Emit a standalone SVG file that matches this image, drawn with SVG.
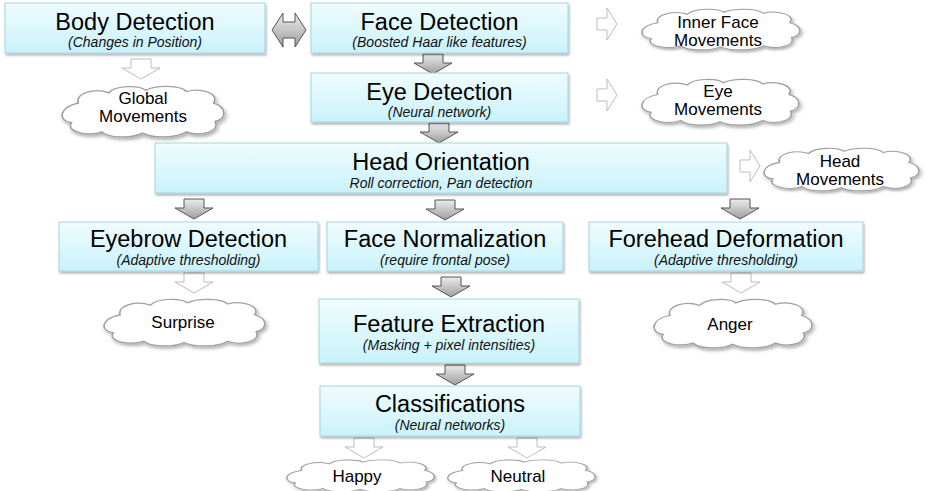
<svg xmlns="http://www.w3.org/2000/svg" width="928" height="491" viewBox="0 0 928 491">
<defs>
<linearGradient id="boxg" x1="0" y1="0" x2="0" y2="1"><stop offset="0" stop-color="#f0fcfe"/><stop offset="1" stop-color="#c9f2fb"/></linearGradient>
<linearGradient id="arrg" x1="0" y1="0" x2="0" y2="1"><stop offset="0" stop-color="#ececec"/><stop offset="1" stop-color="#9e9e9e"/></linearGradient>
<filter id="sh" x="-5%" y="-10%" width="110%" height="130%"><feDropShadow dx="1" dy="2" stdDeviation="1.2" flood-color="#000" flood-opacity="0.3"/></filter>
<path id="down" d="M9,0 H29 V9 H38 L19,20 L0,9 H9 Z"/>
<path id="right" d="M0,10 H10 V0 L20,16 L10,32 V22 H0 Z"/>
<path id="cloud" d="M12,14 C10,6 22,2 30,6 C34,0 48,0 52,4 C58,0 72,0 76,5 C84,2 96,6 92,14 C100,17 100,26 93,28 C96,36 84,40 76,36 C70,41 56,41 50,37 C44,41 30,41 26,36 C18,40 4,36 8,29 C0,28 0,17 12,14 Z"/>
</defs>
<style>
.box{fill:url(#boxg);stroke:#a8d3e3;stroke-width:1;filter:url(#sh)}
.t{font-family:"Liberation Sans",Arial,sans-serif;font-size:23.5px;fill:#000;text-anchor:middle}
.s{font-family:"Liberation Sans",Arial,sans-serif;font-size:14px;font-style:italic;fill:#111;text-anchor:middle}
.c{font-family:"Liberation Sans",Arial,sans-serif;font-size:17px;fill:#000;text-anchor:middle}
.cl{fill:#fff;stroke:#a0a0a0;stroke-width:1;filter:url(#sh)}
.ga{fill:url(#arrg);stroke:#555;stroke-width:1}
.wa{fill:#fff;stroke:#bdbdbd;stroke-width:1}
</style>
<rect width="928" height="491" fill="#fff"/>

<g id="connectors">
<path class="ga" d="M272,30 L283,13 V22 H295 V13 L306,30 L295,47 V38 H283 V47 Z"/>
<use href="#down" class="ga" x="414" y="54"/>
<use href="#down" class="ga" x="420" y="123"/>
<use href="#down" class="ga" x="175" y="199"/>
<use href="#down" class="ga" x="426" y="200"/>
<use href="#down" class="ga" x="721" y="199"/>
<use href="#down" class="ga" x="432" y="277"/>
<use href="#down" class="ga" x="436" y="365"/>
<use href="#down" class="wa" x="122" y="59"/>
<use href="#down" class="wa" x="175" y="273"/>
<use href="#down" class="wa" x="722" y="273"/>
<use href="#down" class="wa" x="345" y="438"/>
<use href="#down" class="wa" x="508" y="438"/>
<use href="#right" class="wa" x="597" y="8"/>
<use href="#right" class="wa" x="597" y="79"/>
<use href="#right" class="wa" x="740" y="150"/>
</g>

<g id="body"><rect class="box" x="5" y="3" width="260" height="50"/><text class="t" x="135" y="30">Body Detection</text><text class="s" x="135" y="47">(Changes in Position)</text></g>
<g id="face"><rect class="box" x="311" y="3" width="257" height="50"/><text class="t" x="439.5" y="30">Face Detection</text><text class="s" x="439.5" y="47">(Boosted Haar like features)</text></g>
<g id="eye"><rect class="box" x="311" y="73" width="257" height="49"/><text class="t" x="439.5" y="100">Eye Detection</text><text class="s" x="439.5" y="117">(Neural network)</text></g>
<g id="head"><rect class="box" x="155" y="143" width="572" height="50"/><text class="t" x="441" y="170">Head Orientation</text><text class="s" x="441" y="188">Roll correction, Pan detection</text></g>
<g id="eyebrow"><rect class="box" x="59" y="222" width="259" height="49"/><text class="t" x="188.5" y="247">Eyebrow Detection</text><text class="s" x="188.5" y="265">(Adaptive thresholding)</text></g>
<g id="facenorm"><rect class="box" x="327" y="222" width="236" height="49"/><text class="t" x="445" y="247">Face Normalization</text><text class="s" x="445" y="265">(require frontal pose)</text></g>
<g id="forehead"><rect class="box" x="589" y="222" width="274" height="49"/><text class="t" x="726" y="247">Forehead Deformation</text><text class="s" x="726" y="265">(Adaptive thresholding)</text></g>
<g id="feature"><rect class="box" x="319" y="299" width="260" height="64"/><text class="t" x="449" y="332">Feature Extraction</text><text class="s" x="449" y="350">(Masking + pixel intensities)</text></g>
<g id="classif"><rect class="box" x="320" y="386" width="260" height="50"/><text class="t" x="450" y="412">Classifications</text><text class="s" x="450" y="430">(Neural networks)</text></g>

<g id="global"><use href="#cloud" class="cl" transform="translate(58,85) scale(1.69,1.3)"/><text class="c" x="143" y="104">Global</text><text class="c" x="143" y="122">Movements</text></g>
<g id="inner"><use href="#cloud" class="cl" transform="translate(638,8) scale(1.65,1.05)"/><text class="c" x="718" y="28">Inner Face</text><text class="c" x="718" y="46">Movements</text></g>
<g id="eyemov"><use href="#cloud" class="cl" transform="translate(638,78) scale(1.64,1.18)"/><text class="c" x="718" y="97">Eye</text><text class="c" x="718" y="115">Movements</text></g>
<g id="headmov"><use href="#cloud" class="cl" transform="translate(760,147) scale(1.62,1.1)"/><text class="c" x="840" y="167">Head</text><text class="c" x="840" y="185">Movements</text></g>
<g id="surprise"><use href="#cloud" class="cl" transform="translate(100,298) scale(1.68,1.2)"/><text class="c" x="183" y="328">Surprise</text></g>
<g id="anger"><use href="#cloud" class="cl" transform="translate(650,298) scale(1.65,1.25)"/><text class="c" x="730" y="330">Anger</text></g>
<g id="happy"><use href="#cloud" class="cl" transform="translate(283,459) scale(1.54,0.82)"/><text class="c" x="357" y="482">Happy</text></g>
<g id="neutral"><use href="#cloud" class="cl" transform="translate(444,459) scale(1.54,0.82)"/><text class="c" x="518" y="482">Neutral</text></g>
</svg>
